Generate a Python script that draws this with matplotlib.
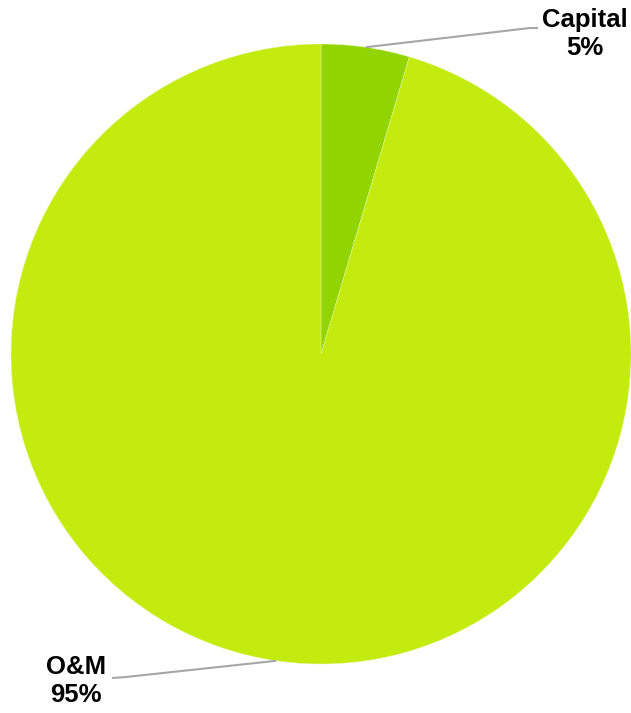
import numpy as np
import matplotlib.pyplot as plt

labels = ['Capital', 'O&M']
values = [4.6, 95.4]
pct_labels = ['5%', '95%']
colors = ['#92D400', '#C4EB0E']

W, H = 631, 713
fig = plt.figure(figsize=(W / 100, H / 100), dpi=100)
ax = fig.add_axes([0, 0, 1, 1])
ax.set_xlim(0, W)
ax.set_ylim(0, H)
ax.set_aspect('equal')
ax.axis('off')

cx, cy, r = 321, H - 354, 310
wedges, _ = ax.pie(values, colors=colors, startangle=90, counterclock=False,
                   center=(cx, cy), radius=r,
                   wedgeprops=dict(linewidth=0.3, edgecolor='#E8F5B0'))
ax.set_xlim(0, W)
ax.set_ylim(0, H)

# leader line elbows and label centres (pixel coords, y from top)
leaders = [((530, 28), (538, 28), (585, 34)),
           ((126, 677), (112, 678), (76, 681))]

for w, lab, pct, (elbow, end, txt) in zip(wedges, labels, pct_labels, leaders):
    ang = np.deg2rad((w.theta1 + w.theta2) / 2)
    x0 = cx + r * np.cos(ang)
    y0 = cy + r * np.sin(ang)
    ax.plot([x0, elbow[0], end[0]], [y0, H - elbow[1], H - end[1]],
            color='#A6A6A6', lw=1.5, solid_capstyle='butt')
    ax.text(txt[0], H - txt[1], lab + '\n' + pct, ha='center', va='center',
            fontsize=18.5, fontweight='bold', family='Liberation Sans',
            linespacing=1.22, color='black')

plt.savefig('out.png', dpi=100)
